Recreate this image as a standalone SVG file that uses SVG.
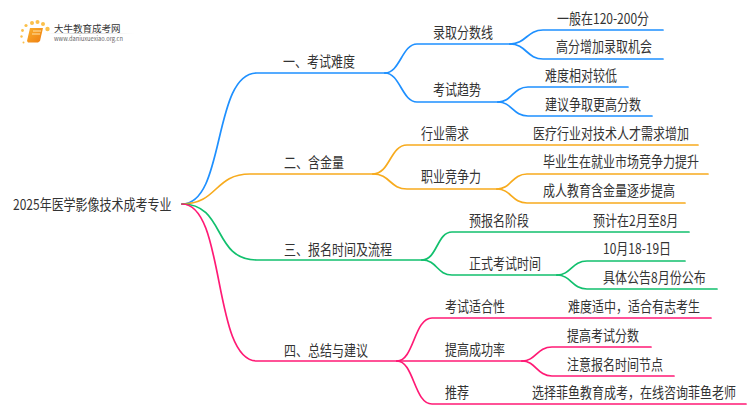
<svg xmlns="http://www.w3.org/2000/svg" width="750" height="410" viewBox="0 0 750 410">
<defs>
<linearGradient id="bk" x1="0" y1="0" x2="1" y2="1"><stop offset="0" stop-color="#fbb02d"/><stop offset="1" stop-color="#ee7d10"/></linearGradient>
<linearGradient id="rule" x1="0" y1="0" x2="1" y2="0"><stop offset="0" stop-color="#ddd" stop-opacity="0"/><stop offset=".4" stop-color="#ccc"/><stop offset="1" stop-color="#ddd" stop-opacity="0"/></linearGradient>
</defs>
<style>
text{font-family:"Noto Sans CJK SC","Noto Sans",sans-serif;font-size:15px;fill:#333}
.c{fill:none;stroke-width:1.7;stroke-linecap:round}
.b{stroke:#1e90ff}.o{stroke:#f7ab1e}.g{stroke:#12c06e}.p{stroke:#ff1a75}
.d{fill:#fbc04a}
</style>
<rect width="750" height="410" fill="#fff"/>
<g id="connectors">
<g class="c b">
<path d="M182 204C226 204 212 73 257 73H385"/>
<path d="M385 73C400 73 402 44 417 44H510"/>
<path d="M385 73C400 73 402 102 417 102H498"/>
<path d="M510 44C526 44 527 30 543 30H663"/>
<path d="M510 44C526 44 527 59 543 59H663"/>
<path d="M498 102C512 102 513 87 528 87H628"/>
<path d="M498 102C512 102 513 116 528 116H652"/>
</g>
<g class="c o">
<path d="M182 204C218 204 214 174 250 174H373"/>
<path d="M373 174C390 174 390 145 407 145H698"/>
<path d="M373 174C390 174 390 189 407 189H497"/>
<path d="M497 189C511 189 512 174 527 174H708"/>
<path d="M497 189C511 189 512 203 527 203H685"/>
</g>
<g class="c g">
<path d="M182 204C226 204 212 260 257 260H422"/>
<path d="M422 260C437 260 437 232 452 232H689"/>
<path d="M422 260C437 260 437 275 452 275H557"/>
<path d="M557 275C571 275 572 261 587 261H685"/>
<path d="M557 275C571 275 572 289 587 289H717"/>
</g>
<g class="c p">
<path d="M182 204C226 204 212 361 257 361H397"/>
<path d="M397 361C414 361 414 318 432 318H711"/>
<path d="M397 361H522"/>
<path d="M397 361C414 361 414 404 432 404H746"/>
<path d="M522 361C536 361 537 347 552 347H651"/>
<path d="M522 361C536 361 537 376 552 376H674"/>
</g>
</g>
<g id="logo">
<circle class="d" cx="47.500" cy="29" r="2.200"/><circle class="d" cx="32" cy="23" r="2"/><circle class="d" cx="37.500" cy="22" r="2"/><circle class="d" cx="43" cy="24" r="2"/><circle class="d" cx="26" cy="25.500" r="1.600"/><circle class="d" cx="22.500" cy="30.500" r="1.400"/><circle class="d" cx="21.500" cy="36.500" r="1.200"/><circle class="d" cx="23.500" cy="42.500" r="1"/>
<path d="M30 28H43L40 41L38 42.500H28L27 41Z" fill="url(#bk)"/>
<path d="M33 31H41M32 34H40" stroke="#ffe3a8" stroke-width="1" fill="none"/>
<text x="54" y="31.500" style="font-size:9.500px">大牛教育成考网</text>
<rect x="46" y="33" width="88" height="1" fill="url(#rule)"/>
<text x="54" y="41" style="font-size:6px;fill:#666" textLength="69" lengthAdjust="spacingAndGlyphs">www.daniuxuexiao.org.cn</text>
</g>
<g id="root"><text transform="matrix(.8 0 0 1 13 210)">2025年医学影像技术成考专业</text></g>
<g id="n1"><text transform="matrix(.8 0 0 1 283 67)">一、考试难度</text></g>
<g id="n1-1"><text transform="matrix(.8 0 0 1 433 38)">录取分数线</text></g>
<g id="n1-1-1"><text transform="matrix(.8 0 0 1 557 24)">一般在120-200分</text></g>
<g id="n1-1-2"><text transform="matrix(.8 0 0 1 556 52)">高分增加录取机会</text></g>
<g id="n1-2"><text transform="matrix(.8 0 0 1 433 95)">考试趋势</text></g>
<g id="n1-2-1"><text transform="matrix(.8 0 0 1 545 81)">难度相对较低</text></g>
<g id="n1-2-2"><text transform="matrix(.8 0 0 1 545 110)">建议争取更高分数</text></g>
<g id="n2"><text transform="matrix(.8 0 0 1 284 168)">二、含金量</text></g>
<g id="n2-1"><text transform="matrix(.8 0 0 1 421 139)">行业需求</text></g>
<g id="n2-1-1"><text transform="matrix(.8 0 0 1 533 139)">医疗行业对技术人才需求增加</text></g>
<g id="n2-2"><text transform="matrix(.8 0 0 1 421 182)">职业竞争力</text></g>
<g id="n2-2-1"><text transform="matrix(.8 0 0 1 543 167)">毕业生在就业市场竞争力提升</text></g>
<g id="n2-2-2"><text transform="matrix(.8 0 0 1 543 196)">成人教育含金量逐步提高</text></g>
<g id="n3"><text transform="matrix(.8 0 0 1 284 255)">三、报名时间及流程</text></g>
<g id="n3-1"><text transform="matrix(.8 0 0 1 469 226)">预报名阶段</text></g>
<g id="n3-1-1"><text transform="matrix(.8 0 0 1 593 226)">预计在2月至8月</text></g>
<g id="n3-2"><text transform="matrix(.8 0 0 1 469 269)">正式考试时间</text></g>
<g id="n3-2-1"><text transform="matrix(.8 0 0 1 603 254)">10月18-19日</text></g>
<g id="n3-2-2"><text transform="matrix(.8 0 0 1 603 283)">具体公告8月份公布</text></g>
<g id="n4"><text transform="matrix(.8 0 0 1 284 356)">四、总结与建议</text></g>
<g id="n4-1"><text transform="matrix(.8 0 0 1 445 312)">考试适合性</text></g>
<g id="n4-1-1"><text transform="matrix(.8 0 0 1 568 312)">难度适中，适合有志考生</text></g>
<g id="n4-2"><text transform="matrix(.8 0 0 1 445 355)">提高成功率</text></g>
<g id="n4-2-1"><text transform="matrix(.8 0 0 1 567 341)">提高考试分数</text></g>
<g id="n4-2-2"><text transform="matrix(.8 0 0 1 567 370)">注意报名时间节点</text></g>
<g id="n4-3"><text transform="matrix(.8 0 0 1 445 398)">推荐</text></g>
<g id="n4-3-1"><text transform="matrix(.8 0 0 1 532 398)">选择菲鱼教育成考，在线咨询菲鱼老师</text></g>
</svg>
